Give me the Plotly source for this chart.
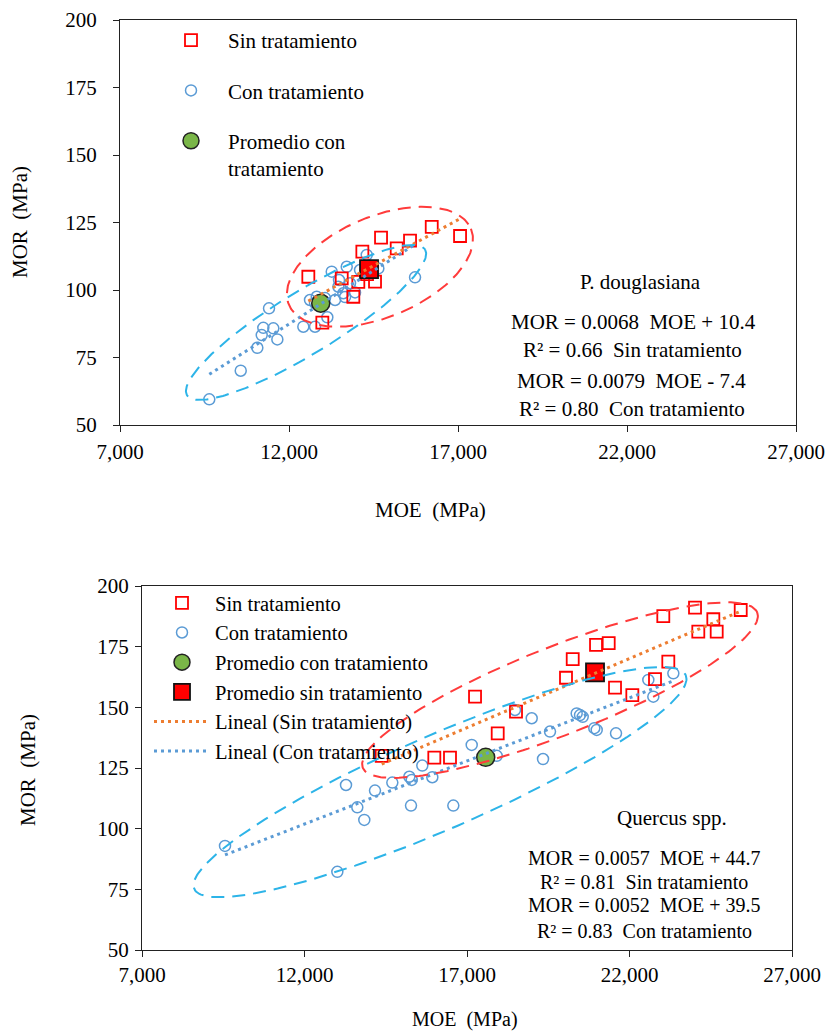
import numpy as np
import plotly.graph_objects as go

W, H = 829, 1032
def px(x): return x / W
def py(y): return 1 - y / H

# ---------------- P. douglasiana (top) ----------------
pd_sin_moe = [12572, 14170, 14723, 15187, 15581, 16223, 17061, 12986, 13903, 13560, 14051, 14545, 14309]
pd_sin_mor = [104.9, 114.2, 119.4, 115.4, 118.3, 123.4, 120.0, 87.9, 97.5, 104.3, 103.0, 103.1, 105.9]
pd_con_moe = [9642, 10572, 11063, 11193, 11240, 11536, 11655, 11409, 12424, 12770, 12622, 13134, 13264,
              13460, 13607, 13708, 13362, 13806, 14643, 14300, 15729, 13954, 13066, 14102, 12770, 13658,
              13480, 12820]
pd_con_mor = [59.5, 70.1, 78.6, 83.3, 86.0, 85.8, 81.7, 93.2, 86.4, 86.4, 96.3, 89.9, 106.8,
              101.2, 98.8, 108.6, 96.3, 102.5, 108.0, 113.0, 104.7, 99.1, 97.0, 107.4, 95.2, 97.4,
              103.7, 97.5]
pd_avg_con = (12939, 95.1)
pd_avg_sin = (14368, 107.7)
pd_fit_sin = (0.0068, 10.4)
pd_fit_con = (0.0079, -7.4)
pd_r2 = (0.66, 0.80)
# ellipses: center, conjugate half-axis vectors (MOE, MOR)
pd_ell_sin = ((14690, 108.6), (2693, 14.07), (574, -17.2))
pd_ell_con = ((12504, 88.0), (3521, 27.0), (480, -9.8))

# ---------------- Quercus spp. (bottom) ----------------
q_sin_moe = [14376, 15994, 16477, 17247, 18508, 17945, 20046, 20253, 20970, 21360, 21554, 22087,
             22785, 23194, 23040, 24016, 24579, 24117, 24683, 25422]
q_sin_mor = [130.0, 129.3, 129.3, 154.4, 148.2, 139.3, 162.2, 169.9, 175.7, 176.5, 158.1, 155.0,
             161.6, 168.8, 187.6, 191.1, 186.3, 181.2, 181.2, 190.1]
q_con_moe = [9554, 13010, 13277, 13625, 13840, 14169, 14702, 15225, 15299, 15277, 15625, 15933,
             16579, 17145, 17914, 18477, 18991, 19554, 20375, 20477, 20560, 20917, 20991, 21585,
             22579, 22733, 23349, 19339]
q_con_mor = [92.9, 82.2, 118.0, 108.8, 103.6, 115.7, 119.0, 121.4, 120.1, 109.5, 126.0, 121.2,
             109.5, 134.5, 130.0, 148.9, 145.5, 140.0, 147.5, 146.8, 146.1, 141.4, 140.7, 139.3,
             161.3, 154.4, 164.0, 128.7]
q_avg_con = (17576, 129.4)
q_avg_sin = (20939, 164.4)
q_fit_sin = (0.0057, 44.7)
q_fit_con = (0.0052, 39.5)
q_r2 = (0.81, 0.83)
q_ell_sin = ((19862, 157.1), (6068, 32.0), (496, -16.9))
q_ell_con = ((16169, 119.2), (7563, 44.0), (576, -17.8))

x_ticks = [7000, 12000, 17000, 22000, 27000]
y_ticks = [50, 75, 100, 125, 150, 175, 200]

FONT = "Liberation Serif"
RED = "#FF0000"
BLUE_PT = "#5B9BD5"
GREEN = "#7AB648"
ORANGE = "#ED7D31"
ELL_RED = "#FF3B3B"
ELL_BLUE = "#2DB4E8"

fig = go.Figure()


def ellipse(spec, n=240):
    (cx, cy), (ax, ay), (bx, by) = spec
    t = np.linspace(0, 2 * np.pi, n)
    return cx + ax * np.cos(t) + bx * np.sin(t), cy + ay * np.cos(t) + by * np.sin(t)


def add_panel(xa, ya, leg, sin_x, sin_y, con_x, con_y, avg_con, avg_sin, fit_sin, fit_con,
              ell_sin, ell_con, full_legend, sq, circ, big):
    fig.add_trace(go.Scatter(x=con_x, y=con_y, mode="markers", name="Con tratamiento",
                             xaxis=xa, yaxis=ya, legend=leg, legendgroup=leg + "b", legendrank=2,
                             marker=dict(symbol="circle-open", size=circ, color=BLUE_PT,
                                         line=dict(width=1.5, color=BLUE_PT))))
    fig.add_trace(go.Scatter(x=sin_x, y=sin_y, mode="markers", name="Sin tratamiento",
                             xaxis=xa, yaxis=ya, legend=leg, legendgroup=leg + "a", legendrank=1,
                             marker=dict(symbol="square-open", size=sq, color=RED,
                                         line=dict(width=1.8, color=RED))))
    fig.add_trace(go.Scatter(x=[avg_con[0]], y=[avg_con[1]], mode="markers",
                             name="Promedio con tratamiento" if full_legend else "Promedio con<br>tratamiento",
                             xaxis=xa, yaxis=ya, legend=leg, legendgroup=leg + "c", legendrank=3,
                             marker=dict(symbol="circle", size=big, color=GREEN,
                                         line=dict(width=1.5, color="#222"))))
    fig.add_trace(go.Scatter(x=[avg_sin[0]], y=[avg_sin[1]], mode="markers",
                             name="Promedio sin tratamiento", showlegend=full_legend,
                             xaxis=xa, yaxis=ya, legend=leg, legendgroup=leg + "d", legendrank=4,
                             marker=dict(symbol="square", size=big, color=RED,
                                         line=dict(width=1.8, color="#111"))))
    xs = [min(sin_x), max(sin_x)]
    fig.add_trace(go.Scatter(x=xs, y=[fit_sin[0] * v + fit_sin[1] for v in xs], mode="lines",
                             name="Lineal (Sin tratamiento)", showlegend=full_legend,
                             xaxis=xa, yaxis=ya, legend=leg, legendgroup=leg + "e", legendrank=5,
                             line=dict(color=ORANGE, width=3, dash="3px,4px")))
    xc = [min(con_x), max(con_x)]
    fig.add_trace(go.Scatter(x=xc, y=[fit_con[0] * v + fit_con[1] for v in xc], mode="lines",
                             name="Lineal (Con tratamiento)", showlegend=full_legend,
                             xaxis=xa, yaxis=ya, legend=leg, legendgroup=leg + "f", legendrank=6,
                             line=dict(color=BLUE_PT, width=3, dash="3px,4px")))
    ex, ey = ellipse(ell_sin)
    fig.add_trace(go.Scatter(x=ex, y=ey, mode="lines", showlegend=False, hoverinfo="skip",
                             xaxis=xa, yaxis=ya, line=dict(color=ELL_RED, width=2, dash="13px,8px")))
    ex, ey = ellipse(ell_con)
    fig.add_trace(go.Scatter(x=ex, y=ey, mode="lines", showlegend=False, hoverinfo="skip",
                             xaxis=xa, yaxis=ya, line=dict(color=ELL_BLUE, width=2, dash="13px,8px")))


add_panel("x", "y", "legend", pd_sin_moe, pd_sin_mor, pd_con_moe, pd_con_mor, pd_avg_con, pd_avg_sin,
          pd_fit_sin, pd_fit_con, pd_ell_sin, pd_ell_con, False, 12, 11, 18)
add_panel("x2", "y2", "legend2", q_sin_moe, q_sin_mor, q_con_moe, q_con_mor, q_avg_con, q_avg_sin,
          q_fit_sin, q_fit_con, q_ell_sin, q_ell_con, True, 12, 11, 18)

axis_common = dict(showgrid=False, zeroline=False, showline=True, linecolor="#222", linewidth=1.3,
                   mirror=True, ticks="outside", tickcolor="#222", tickwidth=1.3, ticklen=6,
                   automargin=False,
                   tickfont=dict(family=FONT, size=21, color="black"))

fig.update_layout(
    template="none",
    width=W, height=H, margin=dict(l=0, r=0, t=0, b=0, autoexpand=False),
    paper_bgcolor="white", plot_bgcolor="white",
    font=dict(family=FONT, size=21, color="black"),
    xaxis=dict(domain=[px(120), px(796)], range=[7000, 27000], tickvals=x_ticks, tickformat=",d",
               anchor="y", ticklabelstandoff=2, **axis_common),
    yaxis=dict(domain=[py(425), py(20)], range=[50, 200], tickvals=y_ticks, anchor="x",
               ticklabelstandoff=12, **axis_common),
    xaxis2=dict(domain=[px(142), px(792)], range=[7000, 27000], tickvals=x_ticks, tickformat=",d",
                anchor="y2", ticklabelstandoff=0, **axis_common),
    yaxis2=dict(domain=[py(950), py(586)], range=[50, 200], tickvals=y_ticks, anchor="x2",
                ticklabelstandoff=2, **axis_common),
    legend=dict(x=px(154), y=py(20), xanchor="left", yanchor="top", bgcolor="rgba(0,0,0,0)",
                itemwidth=64, tracegroupgap=20, valign="top", traceorder="grouped",
                font=dict(family=FONT, size=21, color="black")),
    legend2=dict(x=px(149), y=py(583), xanchor="left", yanchor="top", bgcolor="rgba(0,0,0,0)",
                 itemwidth=56, tracegroupgap=0, traceorder="grouped",
                 font=dict(family=FONT, size=20.5, color="black")),
    showlegend=True,
)

ann = []
def text(x, y, s, size=21, angle=0):
    ann.append(dict(x=px(x), y=py(y), xref="paper", yref="paper", text=s, showarrow=False,
                    xanchor="center", yanchor="middle", textangle=angle,
                    font=dict(family=FONT, size=size, color="black")))

text(430, 510, "MOE  (MPa)", 21)
text(20, 222, "MOR  (MPa)", 21, -90)
text(465, 1019, "MOE  (MPa)", 20)
text(28, 770, "MOR  (MPa)", 21, -90)

text(640, 282, "P. douglasiana", 21)
text(633, 322, f"MOR = {pd_fit_sin[0]:.4f}  MOE + {pd_fit_sin[1]:.1f}", 21)
text(632, 350, f"R² = {pd_r2[0]:.2f}  Sin tratamiento", 21)
text(631, 381, f"MOR = {pd_fit_con[0]:.4f}  MOE - {abs(pd_fit_con[1]):.1f}", 21)
text(632, 409, f"R² = {pd_r2[1]:.2f}  Con tratamiento", 21)

text(672, 818, "Quercus spp.", 21)
text(644, 858, f"MOR = {q_fit_sin[0]:.4f}  MOE + {q_fit_sin[1]:.1f}", 20)
text(644, 882, f"R² = {q_r2[0]:.2f}  Sin tratamiento", 20)
text(644, 905, f"MOR = {q_fit_con[0]:.4f}  MOE + {q_fit_con[1]:.1f}", 20)
text(644, 931, f"R² = {q_r2[1]:.2f}  Con tratamiento", 20)

fig.update_layout(annotations=ann)
fig.write_html("out.html", config={"displayModeBar": False},
               post_script="document.body.style.margin='0';document.body.style.padding='0';")
